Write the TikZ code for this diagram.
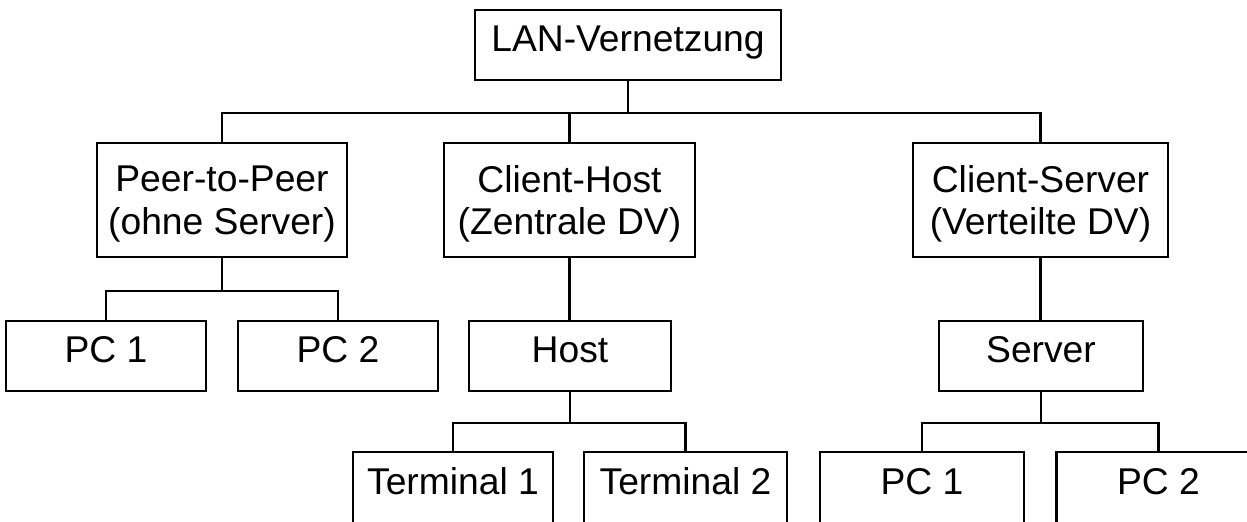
\documentclass[tikz,border=0pt]{standalone}
\usepackage{fontspec}
\setmainfont{Liberation Sans}
\begin{document}
\begin{tikzpicture}[x=0.02cm, y=-0.02cm, line width=1.4pt,
    box/.style={draw, inner sep=0pt, minimum height=1.4cm, text height=0.716em, text depth=0pt, font=\fontsize{21.2}{24.4}\selectfont},
    bigbox/.style={draw, inner sep=0pt, minimum height=2.28cm, align=center, text depth=0pt, font=\fontsize{21.2}{24.4}\selectfont}]
    \clip (0,0) rectangle (1247,521);
    \node [box, minimum width=6.12cm] (lan) at (628,45) {LAN-Vernetzung};
    \node [bigbox, minimum width=5cm] (p2p) at (222,200) {Peer-to-Peer\\(ohne Server)};
    \node [bigbox, minimum width=5.02cm] (ch) at (569.5,200) {Client-Host\\(Zentrale DV)};
    \node [bigbox, minimum width=5.1cm] (cs) at (1040.5,200) {Client-Server\\(Verteilte DV)};
    \node [box, minimum width=4cm] (pc1) at (106,356) {PC 1};
    \node [box, minimum width=4cm] (pc2) at (338,356) {PC 2};
    \node [box, minimum width=4.04cm] (host) at (570,356) {Host};
    \node [box, minimum width=4.08cm] (server) at (1041,356) {Server};
    \node [box, minimum width=4cm, minimum height=1.44cm] (term1) at (453,488) {Terminal 1};
    \node [box, minimum width=4.06cm, minimum height=1.44cm] (term2) at (685.5,488) {Terminal 2};
    \node [box, minimum width=4.08cm, minimum height=1.44cm] (pc3) at (922,488) {PC 1};
    \node [box, minimum width=4.08cm, minimum height=1.44cm] (pc4) at (1158.5,488) {PC 2};
    \foreach \kid in {p2p,ch,cs}
        \draw (lan.south) -- ++(0,32) -| (\kid.north);
    \foreach \kid in {pc1,pc2}
        \draw (p2p.south) -- ++(0,33) -| (\kid.north);
    \draw (ch.south) -- (ch.south |- host.north);
    \foreach \kid in {term1,term2}
        \draw (host.south) -- ++(0,31) -| (\kid.north);
    \draw (cs.south) -- (cs.south |- server.north);
    \foreach \kid in {pc3,pc4}
        \draw (server.south) -- ++(0,31) -| (\kid.north);
\end{tikzpicture}
\end{document}
